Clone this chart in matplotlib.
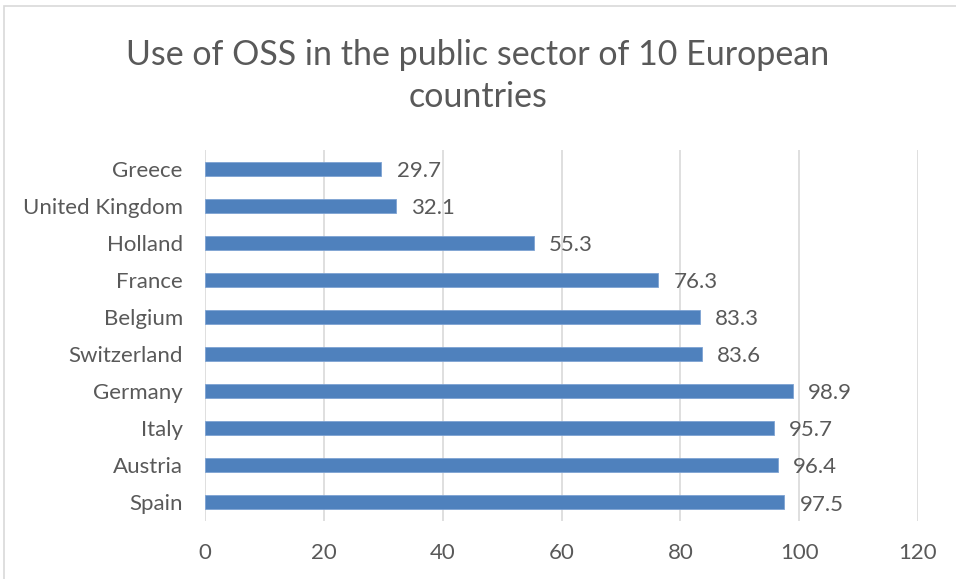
import matplotlib
matplotlib.use("Agg")
import matplotlib.pyplot as plt
from matplotlib.patches import Rectangle

countries = ["Greece", "United Kingdom", "Holland", "France", "Belgium",
             "Switzerland", "Germany", "Italy", "Austria", "Spain"]
values = [29.7, 32.1, 55.3, 76.3, 83.3, 83.6, 98.9, 95.7, 96.4, 97.5]
x_ticks = [0, 20, 40, 60, 80, 100, 120]
title = "Use of OSS in the public sector of 10 European\ncountries"

plt.rcParams["font.family"] = ["Lato", "DejaVu Sans"]
text_color = "#595959"
bar_color = "#4F81BD"

fig = plt.figure(figsize=(9.56, 5.79), dpi=100)
fig.patch.set_facecolor("white")
fig.patches.append(Rectangle((4 / 956, -0.1), 1.2, 1 - 6 / 579 + 0.1,
                             transform=fig.transFigure, fill=False,
                             edgecolor="#D9D9D9", linewidth=1.2))

ax = fig.add_axes([205 / 956, 1 - 521 / 579, (918 - 205) / 956, (521 - 150) / 579])
pos = list(range(len(countries)))
ax.barh(pos, values, height=0.38, color=bar_color, edgecolor="#7EA3D3",
        linewidth=0.6, zorder=3)
ax.set_ylim(len(countries) - 0.5, -0.5)
ax.set_yticks(pos)
ax.set_yticklabels(countries)
ax.set_xlim(0, 120)
ax.set_xticks(x_ticks)
ax.set_xticklabels([str(t) for t in x_ticks])
ax.grid(axis="x", color="#D9D9D9", linewidth=1.2, zorder=0)
for s in ax.spines.values():
    s.set_visible(False)
ax.tick_params(axis="both", length=0, labelsize=16, colors=text_color)
ax.tick_params(axis="y", pad=16)
ax.tick_params(axis="x", pad=16)

for p, v in zip(pos, values):
    ax.annotate(f"{v}", xy=(v, p), xytext=(11, -1.5), textcoords="offset points",
                ha="left", va="center", fontsize=16, color=text_color)

fig.text(0.5, 1 - 76 / 579, title, ha="center", va="center",
         fontsize=24.5, color=text_color, linespacing=1.42)

fig.savefig("out.png", dpi=100)
